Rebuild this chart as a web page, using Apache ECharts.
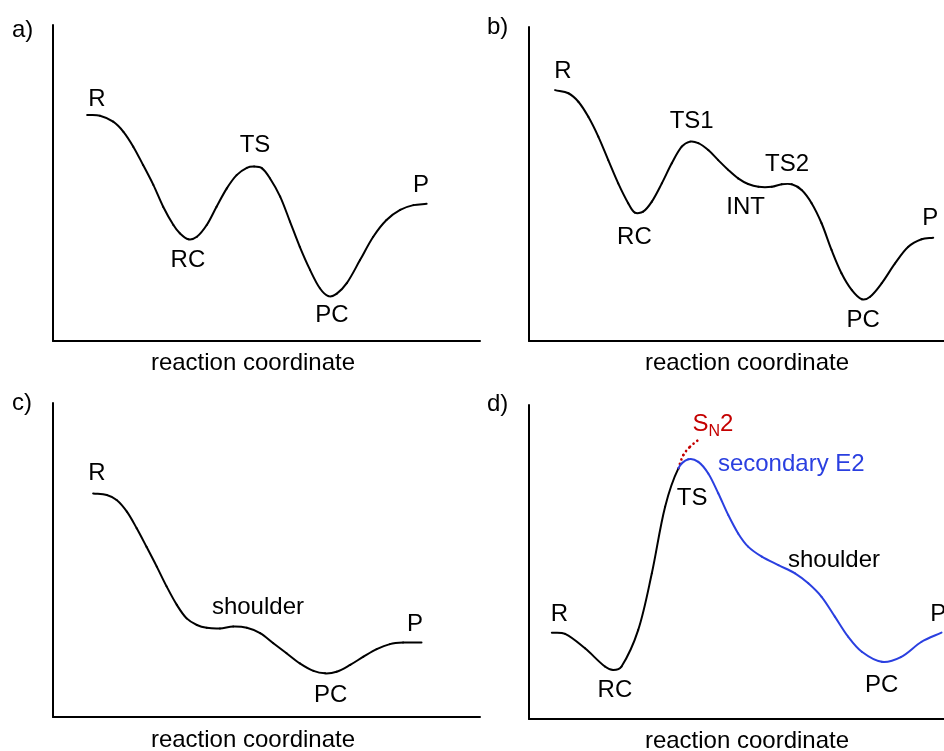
<!DOCTYPE html>
<html>
<head>
<meta charset="utf-8">
<script src="https://cdn.jsdelivr.net/npm/echarts@6/dist/echarts.min.js"></script>
<style>
html,body{margin:0;padding:0;background:#fff;}
#chart{width:944px;height:751px;}
</style>
</head>
<body>
<div id="chart"></div>
<script>
// ---- Data (reaction coordinate 0-100, relative energy 0-100) ----
// Panel a
const aX = [8.0, 11.0, 14.1, 16.5, 18.8, 21.1, 23.5, 25.8, 28.2, 29.7, 31.7, 33.7, 36.0, 38.3, 40.7, 43.0, 45.4, 47.1, 48.9, 50.8, 53.2, 55.5, 57.8, 60.2, 62.5, 64.5, 66.4, 68.8, 71.9, 75.0, 78.1, 81.3, 84.4, 87.5];
const aY = [71.5, 71.3, 69.4, 66.2, 61.5, 55.7, 49.4, 42.5, 36.7, 34.1, 32.2, 33.0, 36.7, 42.5, 48.3, 52.5, 54.8, 55.2, 54.7, 51.5, 45.7, 37.8, 29.8, 22.5, 16.7, 14.2, 14.9, 18.3, 25.6, 33.0, 38.3, 41.5, 43.0, 43.4];
const aLabels = ["R", "TS", "RC", "PC", "P"];
const aLabelX = [10.3, 47.3, 31.6, 65.3, 86.2];
const aLabelY = [76.6, 62.0, 25.6, 8.2, 49.4];

// Panel b
const bX = [6.3, 9.5, 11.9, 14.3, 16.7, 19.1, 21.5, 23.9, 25.5, 27.5, 29.6, 32.0, 34.4, 36.8, 38.8, 40.8, 43.2, 45.6, 48.0, 50.4, 52.8, 55.3, 58.5, 60.9, 63.3, 65.7, 68.1, 70.5, 72.9, 75.3, 77.8, 80.2, 82.2, 85.0, 88.2, 91.4, 94.6, 97.4];
const bY = [79.9, 78.9, 76.2, 71.4, 65.1, 57.6, 50.2, 43.9, 40.9, 41.2, 44.4, 50.2, 56.6, 61.9, 63.5, 63.0, 60.8, 57.6, 54.5, 51.8, 50.0, 49.1, 49.1, 49.9, 49.9, 48.1, 43.9, 37.5, 29.0, 21.6, 16.2, 13.3, 14.1, 18.4, 24.7, 30.0, 32.4, 32.9];
const bLabels = ["R", "TS1", "TS2", "INT", "RC", "PC", "P"];
const bLabelX = [8.2, 39.2, 62.2, 52.2, 25.4, 80.5, 96.7];
const bLabelY = [85.8, 69.8, 56.3, 42.5, 32.9, 6.5, 39.2];

// Panel c
const cX = [9.4, 12.6, 14.9, 17.3, 19.6, 21.9, 24.3, 26.6, 29.0, 31.3, 33.7, 36.0, 39.1, 42.2, 45.4, 48.5, 51.6, 54.7, 57.8, 61.0, 63.7, 66.4, 69.6, 72.7, 75.8, 78.9, 82.0, 86.3];
const cY = [71.2, 70.7, 69.1, 65.4, 60.1, 54.2, 47.9, 41.6, 35.7, 31.4, 29.3, 28.4, 28.2, 28.8, 28.4, 26.7, 23.5, 20.3, 17.1, 14.7, 13.9, 14.4, 16.6, 19.2, 21.6, 23.2, 23.7, 23.7];
const cLabels = ["R", "shoulder", "P", "PC"];
const cLabelX = [10.3, 48.0, 84.8, 65.0];
const cLabelY = [77.5, 34.8, 29.6, 7.0];

// Panel d (one profile: black up to the TS region, blue "secondary E2" after it)
const dX = [5.5, 8.7, 13.5, 18.3, 20.3, 22.3, 26.3, 29.6, 32.8, 36.0, 38.4, 40.8, 43.2, 45.6, 48.0, 50.4, 52.8, 56.1, 60.1, 64.1, 67.3, 70.5, 73.7, 76.9, 80.2, 85.0, 89.6, 94.6, 99.4];
const dY = [27.5, 27.1, 22.5, 16.7, 15.6, 16.7, 28.3, 46.4, 67.6, 79.8, 82.7, 81.9, 78.2, 71.9, 65.0, 59.1, 54.9, 51.7, 49.0, 46.4, 43.2, 38.9, 32.6, 26.2, 21.4, 18.2, 19.7, 24.6, 27.5];
const dSplitX = 36.0;            // where the black path turns blue
const dRedX = [36.0, 37.2, 38.8, 41.0];
const dRedY = [79.8, 84.1, 86.7, 89.1];
const dLabels = ["R", "RC", "TS", "shoulder", "PC", "P"];
const dLabelX = [7.3, 20.7, 39.3, 73.5, 85.0, 98.6];
const dLabelY = [33.3, 9.1, 70.3, 50.5, 10.8, 33.3];
const dE2Label = "secondary E2";
const dE2Pos = [63.2, 81.2];
const dSN2Pos = [44.3, 93.9];

const panelTags = ["a)", "b)", "c)", "d)"];
const axisTitle = "reaction coordinate";

// ---- Styling ----
const FONT = "'Liberation Sans', Arial, Helvetica, sans-serif";
const FS = 24;
const BLUE = "#2a3fe0";
const RED = "#c40000";

function labelData(names, xs, ys) { return names.map((n, i) => ({ name: n, value: [xs[i], ys[i]] })); }

const grids = [
  { left: 53, top: 25, width: 427, height: 316 },
  { left: 529, top: 27, width: 415, height: 314 },
  { left: 53, top: 403, width: 427, height: 314 },
  { left: 529, top: 405, width: 415, height: 314 }
];

const axisCommon = {
  type: 'value', min: 0, max: 100,
  axisLine: { show: true, lineStyle: { color: '#000', width: 2 } },
  axisTick: { show: false }, axisLabel: { show: false }, splitLine: { show: false }
};

// Smooth curve through the data points (chord-weighted cubic spline),
// each segment placed with the grid's own axes via api.coord.
function spline(idx, xs, ys, colorAt, width, dash, cap) {
  return {
    type: 'custom', xAxisIndex: idx, yAxisIndex: idx, silent: true,
    data: xs.map((x, i) => [x, ys[i]]),
    renderItem: function (params, api) {
      const i = params.dataIndex;
      if (i === 0) return;
      const n = xs.length;
      const P = k => api.coord([xs[k], ys[k]]);
      const p1 = P(i - 1), p2 = P(i);
      const p0 = i - 2 >= 0 ? P(i - 2) : p1;
      const p3 = i + 1 < n ? P(i + 1) : p2;
      const dist = (a, b) => Math.hypot(b[0] - a[0], b[1] - a[1]);
      const d01 = dist(p0, p1), d12 = dist(p1, p2), d23 = dist(p2, p3);
      const r1 = d12 / ((d01 + d12) || 1);
      const r2 = d12 / ((d12 + d23) || 1);
      return {
        type: 'bezierCurve',
        shape: {
          x1: p1[0], y1: p1[1], x2: p2[0], y2: p2[1],
          cpx1: p1[0] + (p2[0] - p0[0]) * r1 / 3, cpy1: p1[1] + (p2[1] - p0[1]) * r1 / 3,
          cpx2: p2[0] - (p3[0] - p1[0]) * r2 / 3, cpy2: p2[1] - (p3[1] - p1[1]) * r2 / 3
        },
        style: {
          fill: 'none', stroke: colorAt(xs[i - 1]), lineWidth: width,
          lineCap: cap || 'round', lineDash: dash || null
        }
      };
    }
  };
}
const black = () => '#000';

function labels(idx, data, color) {
  return {
    type: 'scatter', xAxisIndex: idx, yAxisIndex: idx, data: data,
    symbolSize: 0, silent: true, itemStyle: { opacity: 1 },
    label: { show: true, position: 'inside', formatter: '{b}', color: color || '#000',
             textBorderWidth: 0, fontSize: FS, fontFamily: FONT }
  };
}

const series = [
  spline(0, aX, aY, black, 2),
  labels(0, labelData(aLabels, aLabelX, aLabelY)),
  spline(1, bX, bY, black, 2),
  labels(1, labelData(bLabels, bLabelX, bLabelY)),
  spline(2, cX, cY, black, 2),
  labels(2, labelData(cLabels, cLabelX, cLabelY)),
  spline(3, dRedX, dRedY, () => RED, 2.6, [0.1, 4.6], 'round'),
  spline(3, dX, dY, x => (x < dSplitX ? '#000' : BLUE), 2),
  labels(3, labelData(dLabels, dLabelX, dLabelY)),
  labels(3, [{ name: dE2Label, value: dE2Pos }], BLUE),
  {
    type: 'scatter', xAxisIndex: 3, yAxisIndex: 3, data: [{ name: 'SN2', value: dSN2Pos }],
    symbolSize: 0, silent: true, itemStyle: { opacity: 1 },
    label: {
      show: true, position: 'inside', formatter: '{m|S}{s|N}{m|2}', textBorderWidth: 0,
      rich: {
        m: { fontSize: FS, lineHeight: 30, verticalAlign: 'middle', color: RED, fontFamily: FONT },
        s: { fontSize: 16, lineHeight: 30, verticalAlign: 'bottom', color: RED, fontFamily: FONT }
      }
    }
  }
];

const tagPos = [[12, 30], [487, 27], [12, 403], [487, 404]];
const titlePos = [[253, 363], [747, 363], [253, 740], [747, 741]];
const graphic = [];
panelTags.forEach((t, i) => {
  graphic.push({ type: 'text', x: tagPos[i][0], y: tagPos[i][1], silent: true,
    style: { text: t, fill: '#000', font: FS + 'px ' + FONT, textAlign: 'left', textVerticalAlign: 'middle' } });
});
titlePos.forEach((p) => {
  graphic.push({ type: 'text', x: p[0], y: p[1], silent: true,
    style: { text: axisTitle, fill: '#000', font: FS + 'px ' + FONT, textAlign: 'center', textVerticalAlign: 'middle' } });
});

const chart = echarts.init(document.getElementById('chart'), null, { renderer: 'canvas' });
chart.setOption({
  animation: false,
  backgroundColor: '#fff',
  grid: grids,
  xAxis: grids.map((g, i) => Object.assign({ gridIndex: i }, axisCommon)),
  yAxis: grids.map((g, i) => Object.assign({ gridIndex: i }, axisCommon)),
  series: series,
  graphic: graphic
});
</script>
</body>
</html>
